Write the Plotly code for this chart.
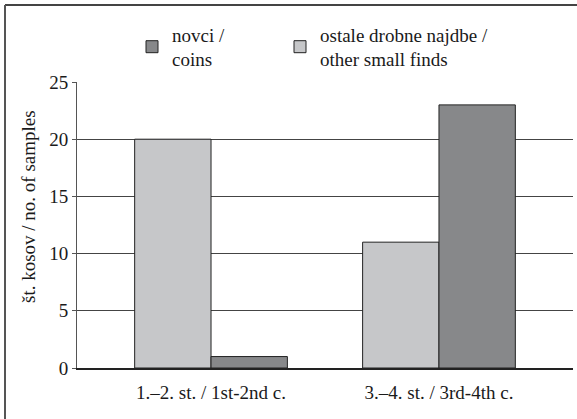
import plotly.graph_objects as go

categories = ["1.–2. st. / 1st-2nd c.", "3.–4. st. / 3rd-4th c."]
other_finds = [20, 11]
coins = [1, 23]
name_coins = "novci /<br>coins"
name_other = "ostale drobne najdbe /<br>other small finds"
y_title = "št. kosov / no. of samples"
y_ticks = [0, 5, 10, 15, 20, 25]

W, H = 577, 419
L, R, T, B = 77, 4, 82, 51
pw, ph = W - L - R, H - T - B

FAMILY = "Liberation Serif, Times New Roman, serif"
font = dict(family=FAMILY, size=19, color="#1a1a1a")

fig = go.Figure()
fig.add_trace(go.Bar(x=categories, y=other_finds, name=name_other,
                     marker=dict(color="#c6c7c9", line=dict(color="#222222", width=1)),
                     legend="legend2"))
fig.add_trace(go.Bar(x=categories, y=coins, name=name_coins,
                     marker=dict(color="#87888a", line=dict(color="#222222", width=1)),
                     legend="legend"))

def px_x(p):
    return (p - L) / pw

def px_y(p):
    return (H - B - p) / ph

def leg(xpx):
    return dict(orientation="v", x=px_x(xpx), xanchor="left", y=px_y(47), yanchor="middle",
                font=font, bgcolor="rgba(0,0,0,0)", valign="middle")

fig.update_layout(
    width=W, height=H,
    margin=dict(l=L, r=R, t=T, b=B, autoexpand=False),
    paper_bgcolor="white", plot_bgcolor="white",
    font=font,
    barmode="group", bargap=0.33, bargroupgap=0,
    showlegend=True,
    legend=leg(132),
    legend2=leg(280),
    xaxis=dict(type="category", range=[-0.588, 1.588], showgrid=False, automargin=False,
               showline=True, linecolor="#222222", linewidth=1.5, ticks="",
               tickfont=font, ticklabelstandoff=6),
    yaxis=dict(range=[0, 25], tickvals=y_ticks, showgrid=True, gridcolor="#444444", gridwidth=1,
               showline=True, linecolor="#555555", linewidth=1, ticks="outside", ticklen=4,
               tickcolor="#555555", tickfont=font, zeroline=False, automargin=False),
    annotations=[
        dict(text=y_title, textangle=-90, xref="paper", yref="paper",
             x=px_x(28), y=px_y(207), xanchor="center", yanchor="middle",
             showarrow=False, font=font),
    ],
    shapes=[
        dict(type="line", xref="paper", yref="paper", x0=px_x(5), x1=px_x(W), y0=px_y(5), y1=px_y(5),
             line=dict(color="#444444", width=2)),
        dict(type="line", xref="paper", yref="paper", x0=px_x(5), x1=px_x(5), y0=px_y(5), y1=px_y(H),
             line=dict(color="#555555", width=2)),
    ],
)

fig.write_html("out.html", config={"displayModeBar": False},
               post_script="document.body.style.margin='0';")
